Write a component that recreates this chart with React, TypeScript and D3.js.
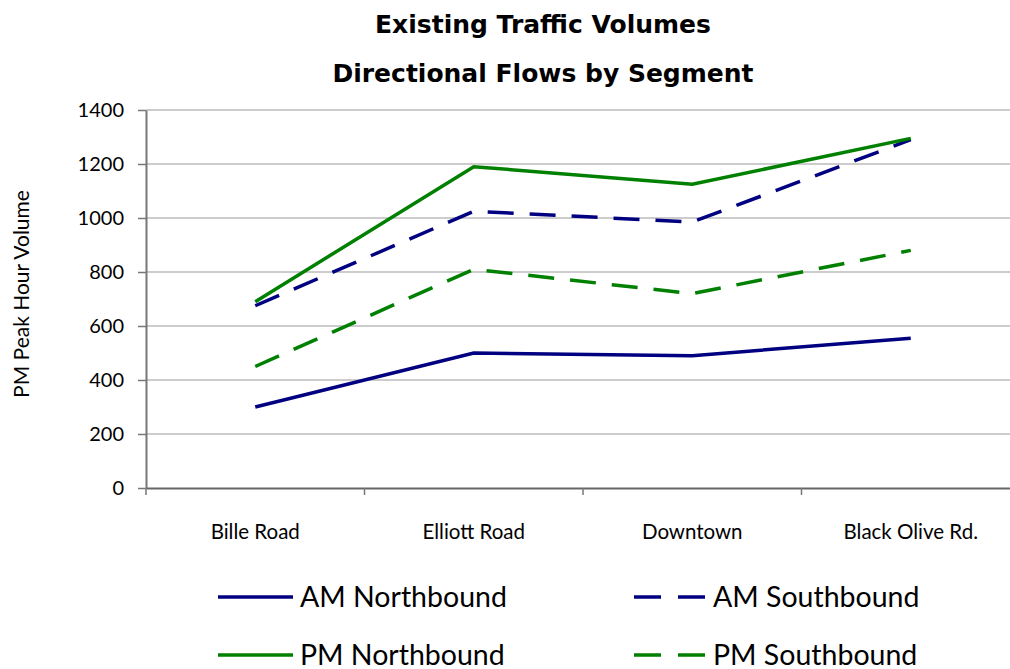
import * as d3 from "d3"
import { useEffect, useRef } from "react"

const categories = ["Bille Road", "Elliott Road", "Downtown", "Black Olive Rd."]
const amNorthbound = [300, 500, 490, 555]
const amSouthbound = [675, 1025, 985, 1290]
const pmNorthbound = [690, 1190, 1125, 1295]
const pmSouthbound = [450, 810, 720, 880]
const yTicks = [0, 200, 400, 600, 800, 1000, 1200, 1400]

const series = [
  { name: "AM Northbound", values: amNorthbound, color: "#000080", dashed: false },
  { name: "AM Southbound", values: amSouthbound, color: "#000080", dashed: true },
  { name: "PM Northbound", values: pmNorthbound, color: "#008000", dashed: false },
  { name: "PM Southbound", values: pmSouthbound, color: "#008000", dashed: true },
]

const FONT = "Lato, 'Open Sans', sans-serif"
const TITLE_FONT = "'DejaVu Sans', Lato, sans-serif"

export default function App() {
  const svgRef = useRef<SVGSVGElement>(null)

  useEffect(() => {
    if (!svgRef.current) return
    const svg = d3.select(svgRef.current)
    svg.selectAll("*").remove()

    // plot area runs a little past the right edge of the picture
    const left = 146
    const right = 1020
    const top = 110
    const bottom = 488

    const x = d3.scaleBand().domain(categories).range([left, right])
    const y = d3.scaleLinear().domain([0, 1400]).range([bottom, top])

    // title
    const title = svg.append("g").attr("font-family", TITLE_FONT).attr("font-weight", "bold")
      .attr("font-size", 25).attr("text-anchor", "middle").attr("fill", "#000")
    title.append("text").attr("x", 543).attr("y", 33).text("Existing Traffic Volumes")
    title.append("text").attr("x", 543).attr("y", 82).text("Directional Flows by Segment")

    // gridlines
    svg.append("g")
      .selectAll("line")
      .data(yTicks.filter((t) => t > 0))
      .join("line")
      .attr("x1", left)
      .attr("x2", right)
      .attr("y1", (d) => y(d))
      .attr("y2", (d) => y(d))
      .attr("stroke", "#999")
      .attr("stroke-width", 1)

    // y axis
    const yAxis = svg.append("g")
      .attr("transform", `translate(${left},0)`)
      .call(d3.axisLeft(y).tickValues(yTicks).tickFormat(d3.format("d")).tickSize(8).tickPadding(14).tickSizeOuter(0))
    yAxis.select(".domain").attr("stroke", "#777").attr("stroke-width", 2)
    yAxis.selectAll(".tick line").attr("stroke", "#777").attr("stroke-width", 1.5)
    yAxis.selectAll(".tick text").attr("font-family", FONT).attr("font-size", 20).attr("fill", "#000")

    // x axis
    const xAxis = svg.append("g")
      .attr("transform", `translate(0,${bottom})`)
      .call(d3.axisBottom(x).tickSize(0).tickPadding(36))
    xAxis.select(".domain").attr("stroke", "#666").attr("stroke-width", 2)
    xAxis.selectAll(".tick text").attr("font-family", FONT).attr("font-size", 20.5).attr("fill", "#000")
    xAxis.selectAll(".tickmark")
      .data([...categories.map((c) => x(c)!), right])
      .join("line")
      .attr("class", "tickmark")
      .attr("x1", (d) => d)
      .attr("x2", (d) => d)
      .attr("y1", 0)
      .attr("y2", 7)
      .attr("stroke", "#777")
      .attr("stroke-width", 1.5)

    // y label
    svg.append("text")
      .attr("transform", `translate(29,${(top + bottom) / 2 - 5}) rotate(-90)`)
      .attr("text-anchor", "middle")
      .attr("font-family", FONT)
      .attr("font-size", 21)
      .text("PM Peak Hour Volume")

    // lines
    const line = d3.line<number>()
      .x((_, i) => x(categories[i])! + x.bandwidth() / 2)
      .y((d) => y(d))

    series.forEach((s) => {
      svg.append("path")
        .datum(s.values)
        .attr("d", line)
        .attr("fill", "none")
        .attr("stroke", s.color)
        .attr("stroke-width", 3.5)
        .attr("stroke-dasharray", s.dashed ? "26,16" : null)
    })

    // legend (second row is cut by the bottom edge, as in the source)
    const legendPos = [
      [218, 597],
      [634, 597],
      [218, 655],
      [634, 655],
    ]
    series.forEach((s, i) => {
      const [lx, ly] = legendPos[i]
      const g = svg.append("g").attr("transform", `translate(${lx},${ly})`)
      g.append("line")
        .attr("x1", 0)
        .attr("x2", s.dashed ? 71 : 75)
        .attr("y1", 0)
        .attr("y2", 0)
        .attr("stroke", s.color)
        .attr("stroke-width", 3.5)
        .attr("stroke-dasharray", s.dashed ? "27,17" : null)
      g.append("text")
        .attr("x", s.dashed ? 79 : 82)
        .attr("y", 10)
        .attr("font-family", FONT)
        .attr("font-size", 28.5)
        .text(s.name)
    })
  }, [])

  return (
    <svg
      ref={svgRef}
      width={1010}
      height={669}
      style={{ position: "absolute", left: 0, top: 0, background: "#fff" }}
    />
  )
}
